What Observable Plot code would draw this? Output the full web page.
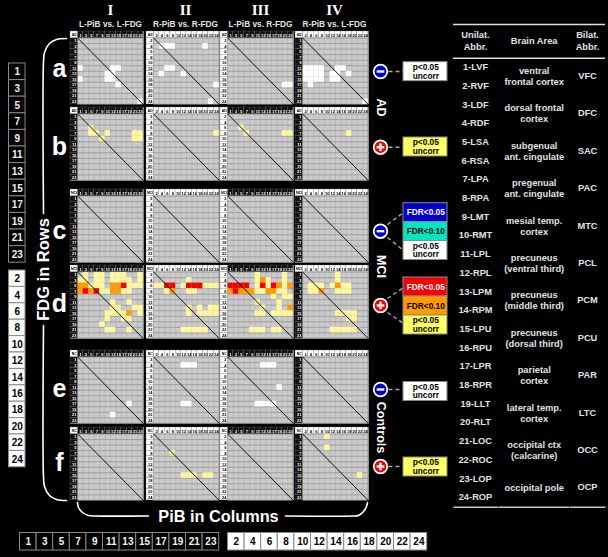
<!DOCTYPE html>
<html><head><meta charset="utf-8">
<script src="https://cdn.jsdelivr.net/npm/d3@7"></script>
<script src="https://cdn.jsdelivr.net/npm/@observablehq/plot@0.6"></script>
<style>html,body{margin:0;padding:0;background:#000;width:608px;height:557px;overflow:hidden}#page{position:relative;width:608px;height:557px}svg{font-family:"Liberation Sans",Arial,sans-serif}</style>
</head><body><div id="page"></div>
<script>
// ---- labels
const oddLabels = [1,3,5,7,9,11,13,15,17,19,21,23];
const evenLabels = [2,4,6,8,10,12,14,16,18,20,22,24];
const romans = ["I","II","III","IV"];
const comparisons = ["L-PiB vs. L-FDG","R-PiB vs. R-FDG","L-PiB vs. R-FDG","R-PiB vs. L-FDG"];
const rowLetters = ["a","b","c","d","e","f"];
const groupCodes = ["AD","AD","MCI","MCI","NC","NC"];
const colLabelSets = [oddLabels,evenLabels,oddLabels,evenLabels];
const rowLabelSets = [oddLabels,evenLabels,evenLabels,oddLabels];

// ---- significant cells per panel: [row index, [column indices], level]
// w = p<0.05 negative, y = p<0.05 positive, o = FDR<0.10 positive, r = FDR<0.05 positive
const cellsA1 = [[5,[0,6,7],"w"],[6,[5,6],"w"],[7,[0,5,6],"w"],[8,[7],"w"],[11,[11],"w"]];
const cellsA2 = [[1,[1,2,3,9],"w"],[5,[2,3],"w"],[6,[1,5],"w"],[8,[11],"w"],[11,[10],"w"]];
const cellsA3 = [[8,[10,11],"w"]];
const cellsA4 = [[5,[0,1,2,3,6,7],"w"],[6,[0,1,2,3,5,6,8],"w"],[7,[0,1,2,3,5,6],"w"],[8,[1],"w"],[11,[11],"w"]];
const cellsB1 = [[2,[2],"y"],[3,[2,3,5,10,11],"y"],[4,[4,10,11],"y"]];
const cellsB2 = [[3,[11],"y"]];
const cellsB3 = [[2,[2],"y"],[3,[3,10,11],"y"]];
const cellsB4 = [[3,[8],"y"]];
const cellsC1 = [], cellsC2 = [], cellsC3 = [], cellsC4 = [];
const cellsD1 = [[0,[1,3,4,6,7,8,11],"y"],[1,[0,1,3,4,6,7,8,9,11],"y"],[2,[2,3,4,9,10,11],"y"],[2,[0,1,6,7],"o"],[2,[8],"r"],
  [3,[4,5,8,9],"y"],[3,[0,2,6,7],"o"],[3,[1,3],"r"],[5,[6,9],"y"],[6,[6,7,10,11],"y"],[7,[5,6,7,8,11],"y"],[7,[9],"o"],
  [8,[5,8,9],"y"],[9,[4],"y"],[10,[5,6,9],"y"]];
const cellsD2 = [[1,[6],"y"],[2,[0,1,5,9,10,11],"y"],[2,[2,3,6,7,8],"r"],[3,[2,6,7],"y"],[3,[3],"o"],[6,[6,8,10,11],"y"],
  [7,[6,8,9,10,11],"y"],[10,[5,6,7,8,9],"y"]];
const cellsD3 = [[0,[5,10],"y"],[1,[5,7,10],"y"],[1,[6],"o"],[2,[5,7,10],"y"],[2,[0,1,2,3,6,8],"r"],[2,[9,11],"o"],
  [3,[0,2,3,4,7,8],"o"],[3,[1],"r"],[3,[5,6,9,10],"y"],[4,[8,10,11],"y"],[5,[5,9],"y"],[6,[6,9],"y"],[6,[11],"o"],
  [7,[5,6,8,9,10,11],"y"],[10,[4,5,6,8,9],"y"]];
const cellsD4 = [[0,[6],"y"],[1,[6],"y"],[2,[1,2,3,5,7,8],"y"],[2,[6],"o"],[3,[1,2,6,7,8],"y"],[3,[3],"o"],[7,[6,7,8,9],"y"],
  [8,[8,9],"y"],[10,[5,6,7,8,9],"y"]];
const cellsE1 = [[8,[9],"w"],[10,[6],"w"]];
const cellsE2 = [[1,[5,6,7],"w"],[8,[5,6],"w"]];
const cellsE3 = [[1,[6,7,8],"w"],[5,[9],"w"],[8,[5,6,7,8],"w"]];
const cellsE4 = [];
const cellsF1 = [];
const cellsF2 = [[3,[3],"y"],[7,[5,6,7,9,10],"y"]];
const cellsF3 = [];
const cellsF4 = [[0,[4],"y"],[2,[4],"y"],[7,[10],"y"]];
const panelRows = [[cellsA1,cellsA2,cellsA3,cellsA4],[cellsB1,cellsB2,cellsB3,cellsB4],[cellsC1,cellsC2,cellsC3,cellsC4],
  [cellsD1,cellsD2,cellsD3,cellsD4],[cellsE1,cellsE2,cellsE3,cellsE4],[cellsF1,cellsF2,cellsF3,cellsF4]];

// ---- table
const unilateral = ["1-LVF","2-RVF","3-LDF","4-RDF","5-LSA","6-RSA","7-LPA","8-RPA","9-LMT","10-RMT","11-LPL","12-RPL",
  "13-LPM","14-RPM","15-LPU","16-RPU","17-LPR","18-RPR","19-LLT","20-RLT","21-LOC","22-ROC","23-LOP","24-ROP"];
const areas = [["ventral","frontal cortex"],["dorsal frontal","cortex"],["subgenual","ant. cingulate"],["pregenual","ant. cingulate"],
  ["mesial temp.","cortex"],["precuneus","(ventral third)"],["precuneus","(middle third)"],["precuneus","(dorsal third)"],
  ["parietal","cortex"],["lateral temp.","cortex"],["occipital ctx","(calcarine)"],["occipital pole"]];
const bilateral = ["VFC","DFC","SAC","PAC","MTC","PCL","PCM","PCU","PAR","LTC","OCC","OCP"];

// ---- layout & style (separate from the data)
const levelColor = {w:"#ffffff", y:"#fdf8a0", o:"#ff9a00", r:"#f80000"};
const panelX = [70,146,220,295], panelY = [30.7,107.3,189,265,350,426.7], panelSize = 73.5;
const mL = 7.3, mT = 6.6, mR = .8, mB = .6;
const FONT = '"Liberation Sans"';

function panel(ri, ci){
  const cols = colLabelSets[ci], rows = rowLabelSets[ci];
  const idx = d3.range(12), edges = d3.range(13), mids = idx.map(i=>i+.5);
  const cw = (panelSize-mL-mR)/12, ch = (panelSize-mT-mB)/12;
  const left = -mL/cw, top = -mT/ch;
  const hdrDark = ci%2===0, rowDark = (ci===0||ci===3);
  const cells = panelRows[ri][ci].flatMap(([r,cs,l])=>cs.map(c=>({r,c,l})));
  const svg = Plot.plot({
    width:panelSize, height:panelSize, marginLeft:mL, marginTop:mT, marginRight:mR, marginBottom:mB,
    x:{domain:[0,12]}, y:{domain:[0,12],reverse:true},
    style:{background:"#767676",position:"absolute",left:panelX[ci]+"px",top:panelY[ri]+"px",overflow:"visible",filter:"blur(0.3px)"},
    marks:[
      Plot.rect([0],{x1:0,x2:12,y1:0,y2:12,fill:"#cbcbcb"}),
      Plot.ruleX(edges,{stroke:"#aeaeae",strokeWidth:.6}),
      Plot.ruleY(edges,{stroke:"#8c8c8c",strokeWidth:.7}),
      Plot.rect(cells,{x1:d=>d.c,x2:d=>d.c+1,y1:d=>d.r,y2:d=>d.r+1,fill:d=>levelColor[d.l]}),
      Plot.rect(idx,{x1:d=>d,x2:d=>d+1,y1:top,y2:0,fill:hdrDark?"#111":"#fff",stroke:"#777",strokeWidth:.3}),
      Plot.rect(idx,{x1:left,x2:0,y1:d=>d,y2:d=>d+1,fill:rowDark?"#111":"#fff",stroke:"#777",strokeWidth:.3}),
      Plot.rect([0],{x1:left,x2:0,y1:top,y2:0,fill:"#fff",stroke:"#777",strokeWidth:.3}),
      Plot.text([groupCodes[ri]],{x:left/2,y:top/2,text:d=>d,fontSize:3.4,fontWeight:"bold",fill:"#000"}),
      Plot.axisX(mids,{anchor:"top",tickSize:0,tickPadding:1.1,fontSize:4,fontWeight:"bold",label:null,
        fill:hdrDark?"#fff":"#000",tickFormat:d=>cols[Math.floor(d)]}),
      Plot.axisY(mids,{anchor:"left",tickSize:0,tickPadding:1.4,fontSize:4,fontWeight:"bold",label:null,
        fill:rowDark?"#fff":"#000",tickFormat:d=>rows[Math.floor(d)]}),
      Plot.line([[0,0],[12,12]],{stroke:"#111",strokeWidth:1})
    ]
  });
  svg.style.fontFamily = FONT;
  return svg;
}

// ---- background layer: labels, brackets, legends, table
const T = (rows,opts)=>Plot.text(rows,{x:"x",y:"y",text:"t",fill:"#fff",fontWeight:"bold",lineAnchor:"middle",...opts});
const curve = (pts,o={})=>Plot.line(pts,{stroke:"#fff",strokeWidth:1.6,curve:"catmull-rom",...o});

const bgMarks = [];
// titles
const titleX = [110,185,260,334];
bgMarks.push(T(romans.map((t,i)=>({t,x:titleX[i],y:9.5})),{fontFamily:'"Liberation Serif"',fontSize:15}));
bgMarks.push(T(comparisons.map((t,i)=>({t,x:titleX[i],y:23.5})),{fontSize:8.3,fill:"#e4e4e4"}));
// row letters
const letterY = [68,146,230,303,388,462];
bgMarks.push(T(rowLetters.map((t,i)=>({t,x:59,y:letterY[i]})),{fontSize:25}));
// axis titles and brackets
bgMarks.push(T([{t:"FDG in Rows",x:43,y:269}],{fontSize:16.5,rotate:-90}));
bgMarks.push(T([{t:"PiB in Columns",x:218,y:516.5}],{fontSize:16.3}));
bgMarks.push(curve([[43,213],[43,62],[44,52],[49,43],[56,39],[66,38]]));
bgMarks.push(curve([[43,325],[43,476],[44,486],[49,495],[56,499],[66,500]]));
bgMarks.push(curve([[77,502],[78,507],[82,512],[88,515],[95,515.5],[148,515.5]]));
bgMarks.push(curve([[285,515.5],[352,515.5],[358,515],[363,511],[366,506],[367,502]]));
// label strips
function strip(labels,x0,y0,w,h,dark,vertical){
  const rows = labels.map((t,i)=>({t,x:x0+(vertical?0:i*w),y:y0+(vertical?i*h:0)}));
  return [
    Plot.rect(rows,{x1:"x",x2:d=>d.x+w,y1:"y",y2:d=>d.y+h,fill:dark?"#000":"#fff",stroke:"#8a8a8a",strokeWidth:1}),
    T(rows.map(d=>({t:d.t,x:d.x+w/2,y:d.y+h/2+.3})),{fontSize:10,fill:dark?"#f0f0f0":"#000"})
  ];
}
bgMarks.push(...strip(oddLabels,8.5,63,16.5,16.6,true,true));
bgMarks.push(...strip(evenLabels,8.5,270,16.5,16.4,false,true));
bgMarks.push(...strip(oddLabels,19.5,532.5,16.6,17.5,true,false));
bgMarks.push(...strip(evenLabels,227.5,532.5,16.6,17.5,false,false));
// group titles
bgMarks.push(T([{t:"AD",x:380,y:107},{t:"MCI",x:380,y:266},{t:"Controls",x:380,y:427}],{fontSize:12.5,rotate:90}));
// legend
const boxX = 403, boxW = 44, circX = 380;
const legendBoxes = [
  [61.7,80.7,"#fff","#000",["p<0.05","uncorr"]],
  [137,156,"#ffff66","#000",["p<0.05","uncorr"]],
  [202.7,221.5,"#0000cc","#fff",["FDR<0.05"]],
  [221.5,240.5,"#00e6c3","#000",["FDR<0.10"]],
  [240.5,259.5,"#fff","#000",["p<0.05","uncorr"]],
  [277,296,"#f80000","#fff",["FDR<0.05"]],
  [296,315,"#ff9a00","#000",["FDR<0.10"]],
  [315,334,"#ffff66","#000",["p<0.05","uncorr"]],
  [381.5,400.5,"#fff","#000",["p<0.05","uncorr"]],
  [457,476,"#ffff66","#000",["p<0.05","uncorr"]]
];
const dashes = [[388,71,403,71],[388,146.7,403,146.7],[387,224,403,212],[387,237,403,250],[387,298,403,287],[387,312,403,323],[388,389,403,389],[388,466,403,466]];
bgMarks.push(Plot.link(dashes,{x1:"0",y1:"1",x2:"2",y2:"3",stroke:"#a8a8a8",strokeWidth:1.4,strokeDasharray:"4,3"}));
bgMarks.push(Plot.rect(legendBoxes,{x1:boxX,x2:boxX+boxW,y1:"0",y2:"1",fill:"2",stroke:"#8a8a8a",strokeWidth:1}));
bgMarks.push(...legendBoxes.map(b=>{
  const [y0,y1,,col,lines]=b, c=(y0+y1)/2;
  return T(lines.map((t,i)=>({t,x:boxX+boxW/2+.3,y:c+(i-(lines.length-1)/2)*8.6})),{fontSize:8.3,fill:col});
}));
const circles = [[71,"#0000cc",false],[146.7,"#f00000",true],[230.7,"#0000cc",false],[305,"#f00000",true],[389,"#0000cc",false],[466,"#f00000",true]];
bgMarks.push(Plot.dot(circles,{x:circX,y:"0",r:6.8,fill:"1",stroke:"#fff",strokeWidth:1.8}));
bgMarks.push(Plot.link(circles,{x1:circX-3.8,x2:circX+3.8,y1:"0",y2:"0",stroke:"#fff",strokeWidth:2.4}));
bgMarks.push(Plot.link(circles.filter(c=>c[2]),{x1:circX,x2:circX,y1:d=>d[0]-3.8,y2:d=>d[0]+3.8,stroke:"#fff",strokeWidth:2.4}));
// table
const tblStep = 18.7, tblY0 = 66.7, colA = 475, colB = 533.7, colC = 587, tCol = "#e2e2e2", tblFont = 9.3;
bgMarks.push(Plot.ruleY([24,57.7],{x1:453,x2:605,stroke:"#dcdcdc",strokeWidth:1.6}));
bgMarks.push(Plot.link([[453,498],[498.5,569],[569.5,605]],{x1:"0",x2:"1",y1:506.7,y2:506.7,stroke:"#c8c8c8",strokeWidth:1.4}));
bgMarks.push(T([{t:"Unilat.",x:colA,y:35},{t:"Abbr.",x:colA,y:46.7},{t:"Brain Area",x:colB,y:40.7},{t:"Bilat.",x:colC,y:35},{t:"Abbr.",x:colC,y:46.7}],{fontSize:tblFont,fill:tCol}));
bgMarks.push(T(unilateral.map((t,i)=>({t,x:colA,y:tblY0+i*tblStep})),{fontSize:tblFont,fill:tCol}));
bgMarks.push(T(bilateral.map((t,i)=>({t,x:colC,y:tblY0+(i+.5)*2*tblStep-tblStep*.5-.6})),{fontSize:tblFont,fill:tCol}));
bgMarks.push(T(areas.flatMap((ls,i)=>ls.map((t,j)=>({t,x:colB,y:tblY0+2*i*tblStep+tblStep*.5+(j-(ls.length-1)/2)*11}))),{fontSize:tblFont,fill:tCol}));

const bg = Plot.plot({
  width:608,height:557,margin:0,
  x:{domain:[0,608],range:[0,608],axis:null},
  y:{domain:[0,557],range:[0,557],axis:null},
  style:{background:"#000",position:"absolute",left:0,top:0},
  marks:bgMarks
});
const page = document.getElementById("page");
page.append(bg);
panelRows.forEach((row,ri)=>row.forEach((_,ci)=>page.append(panel(ri,ci))));
</script>
</body></html>
